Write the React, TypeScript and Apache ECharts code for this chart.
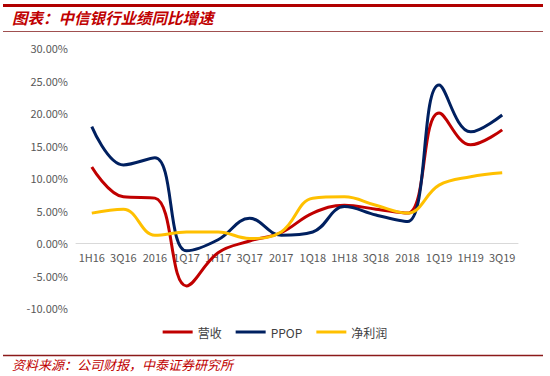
import React, { useEffect, useRef } from "react";
import * as echarts from "echarts";

const categories = ["1H16", "3Q16", "2016", "1Q17", "1H17", "3Q17", "2017", "1Q18", "1H18", "3Q18", "2018", "1Q19", "1H19", "3Q19"];
const revenue = [11.7, 7.1, 6.9, -6.6, -1.5, 0.3, 1.6, 4.6, 5.8, 5.2, 4.6, 20.0, 15.1, 17.4];
const ppop = [17.9, 12.0, 13.1, -1.2, 0.5, 3.8, 1.2, 1.7, 5.6, 4.3, 3.3, 24.3, 17.1, 19.7];
const netProfit = [4.6, 5.2, 1.2, 1.7, 1.7, 0.7, 1.7, 6.9, 7.1, 5.8, 4.6, 8.9, 10.2, 10.8];
const seriesNames = ["营收", "PPOP", "净利润"];
const titleText = "图表：中信银行业绩同比增速";
const sourceText = "资料来源：公司财报，中泰证券研究所";

const RED = "#C00000";
const NAVY = "#002060";
const YELLOW = "#FFC000";
const FONT = "'Noto Sans CJK SC', 'Noto Sans', sans-serif";
const Y_MIN = -10;
const Y_MAX = 30;

export default function App() {
  const ref = useRef<HTMLDivElement>(null);
  useEffect(() => {
    if (!ref.current) return;
    const chart = echarts.init(ref.current, undefined, { renderer: "svg" });
    const gridTop = 48;
    const gridBottom = 68;
    const plotH = 376 - gridTop - gridBottom;
    const zeroOffset = -(plotH * (0 - Y_MIN)) / (Y_MAX - Y_MIN);
    const mk = (name: string, data: number[], color: string) => ({
      name,
      type: "line",
      data,
      smooth: 0.4,
      showSymbol: false,
      symbol: "none",
      lineStyle: { color, width: 3 },
      itemStyle: { color },
    });
    chart.setOption({
      animation: false,
      backgroundColor: "#ffffff",
      textStyle: { fontFamily: FONT },
      grid: { left: 76, right: 32, top: gridTop, bottom: gridBottom, containLabel: false },
      legend: {
        data: seriesNames,
        bottom: 33,
        left: "center",
        icon: "rect",
        itemWidth: 30,
        itemHeight: 3,
        itemGap: 14,
        textStyle: { color: "#404040", fontSize: 12, fontFamily: FONT },
      },
      xAxis: {
        type: "category",
        data: categories,
        boundaryGap: true,
        position: "bottom",
        offset: zeroOffset,
        axisLine: { onZero: false, lineStyle: { color: "#d9d9d9", width: 1 } },
        axisTick: { show: false },
        axisLabel: { color: "#595959", fontSize: 11, margin: 8, interval: 0, fontFamily: FONT },
        splitLine: { show: false },
      },
      yAxis: {
        type: "value",
        min: Y_MIN,
        max: Y_MAX,
        interval: 5,
        axisLine: { show: false },
        axisTick: { show: false },
        splitLine: { show: false },
        axisLabel: {
          color: "#595959",
          fontSize: 11,
          margin: 8,
          fontFamily: FONT,
          formatter: (v: number) => v.toFixed(2) + "%",
        },
      },
      series: [mk(seriesNames[0], revenue, RED), mk(seriesNames[1], ppop, NAVY), mk(seriesNames[2], netProfit, YELLOW)],
      graphic: [
        { type: "line", shape: { x1: 3, y1: 5.5, x2: 543, y2: 5.5 }, style: { stroke: "#B00000", lineWidth: 3 } },
        { type: "line", shape: { x1: 3, y1: 31.5, x2: 543, y2: 31.5 }, style: { stroke: "#a05050", lineWidth: 1 } },
        { type: "line", shape: { x1: 3, y1: 355.5, x2: 543, y2: 355.5 }, style: { stroke: "#8B1A1A", lineWidth: 1.5 } },
        {
          type: "text",
          left: 12,
          top: 9,
          style: { text: titleText, fill: RED, font: `italic bold 15.5px ${FONT}` },
        },
        {
          type: "text",
          left: 12,
          top: 358,
          style: { text: sourceText, fill: RED, font: `italic 13px ${FONT}` },
        },
      ],
    });
    return () => chart.dispose();
  }, []);
  return <div ref={ref} style={{ position: "absolute", left: 0, top: 0, width: 550, height: 376 }} />;
}
